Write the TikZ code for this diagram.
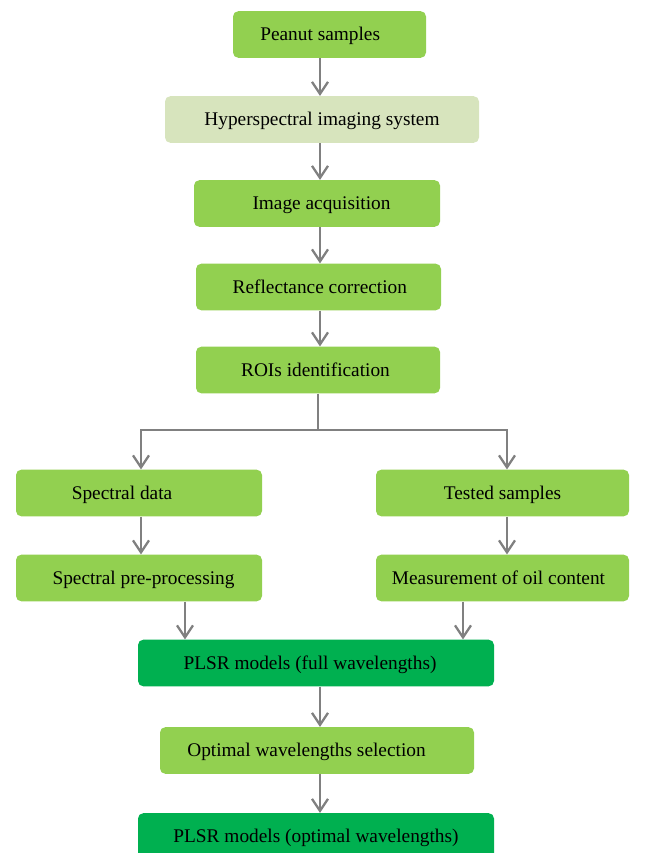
\documentclass[tikz,border=0pt]{standalone}
\usepackage{fontspec}
\setmainfont{Liberation Serif}
\usetikzlibrary{arrows.meta}
\definecolor{boxgreen}{HTML}{92D050}
\definecolor{palegreen}{HTML}{D7E4BD}
\definecolor{darkgreen}{HTML}{00B050}
\definecolor{arrowgray}{HTML}{808080}
\tikzset{
    stepbox/.style={fill=boxgreen, rounded corners=4pt, minimum height=35pt,
        inner sep=0pt, text height=0.9em, text depth=0pt,
        font=\fontsize{14.5}{17}\selectfont},
    palebox/.style={stepbox, fill=palegreen},
    modelbox/.style={stepbox, fill=darkgreen},
    flow/.style={draw=arrowgray, line width=1.9pt,
        -{Straight Barb[length=9pt,width=12pt,line width=1.7pt]}},
    branch/.style={draw=arrowgray, line width=1.9pt}
}
% text a little off the middle of its box
\newcommand{\nudge}[1]{\hspace*{#1}}
\begin{document}
\begin{tikzpicture}[x=0.75pt,y=-0.75pt]
    \useasboundingbox (0,0) rectangle (646,853);
    % main column
    \node[stepbox, minimum width=144.75pt] (peanut) at (329.5,34.5) {\nudge{-14pt}Peanut samples};
    \node[palebox, minimum width=235.5pt] (hyper) at (322,119.5) {Hyperspectral imaging system};
    \node[stepbox, minimum width=184.5pt] (acq) at (317,203.5) {\nudge{6.75pt}Image acquisition};
    \node[stepbox, minimum width=183.75pt] (refl) at (318.5,287) {\nudge{2pt}Reflectance correction};
    \node[stepbox, minimum width=183pt] (roi) at (318,370) {\nudge{-3.75pt}ROIs identification};
    % two branches
    \node[stepbox, minimum width=184.5pt] (spec) at (139,493) {\nudge{-25.5pt}Spectral data};
    \node[stepbox, minimum width=184.5pt] (prep) at (139,578) {\nudge{6.75pt}Spectral pre-processing};
    \node[stepbox, minimum width=189.75pt] (tested) at (502.5,493) {Tested samples};
    \node[stepbox, minimum width=189.75pt] (oil) at (502.5,578) {\nudge{-6pt}Measurement of oil content};
    % models
    \node[modelbox, minimum width=267pt] (plsrfull) at (316,663) {\nudge{-9pt}PLSR models (full wavelengths)};
    \node[stepbox, minimum width=235.5pt] (optsel) at (317,750.5) {\nudge{-15.75pt}Optimal wavelengths selection};
    \node[modelbox, minimum width=267pt] (plsropt) at (316,836.5) {PLSR models (optimal wavelengths)};
    % guide points for the arrows
    \coordinate (axis) at (320,0);
    \coordinate (fork) at (318,430);
    \coordinate (leftx) at (141,0);
    \coordinate (rightx) at (507,0);
    \coordinate (inl) at (185,0);
    \coordinate (inr) at (463,0);
    \draw[flow] (peanut.south -| axis) -- (hyper.north -| axis);
    \draw[flow] (hyper.south -| axis) -- (acq.north -| axis);
    \draw[flow] (acq.south -| axis) -- (refl.north -| axis);
    \draw[flow] (refl.south -| axis) -- (roi.north -| axis);
    \draw[branch] (roi.south -| fork) -- (fork);
    \draw[flow] (fork) -| (spec.north -| leftx);
    \draw[flow] (fork) -| (tested.north -| rightx);
    \draw[flow] (spec.south -| leftx) -- (prep.north -| leftx);
    \draw[flow] (tested.south -| rightx) -- (oil.north -| rightx);
    \draw[flow] (prep.south -| inl) -- (plsrfull.north -| inl);
    \draw[flow] (oil.south -| inr) -- (plsrfull.north -| inr);
    \draw[flow] (plsrfull.south -| axis) -- (optsel.north -| axis);
    \draw[flow] (optsel.south -| axis) -- (plsropt.north -| axis);
\end{tikzpicture}
\end{document}
